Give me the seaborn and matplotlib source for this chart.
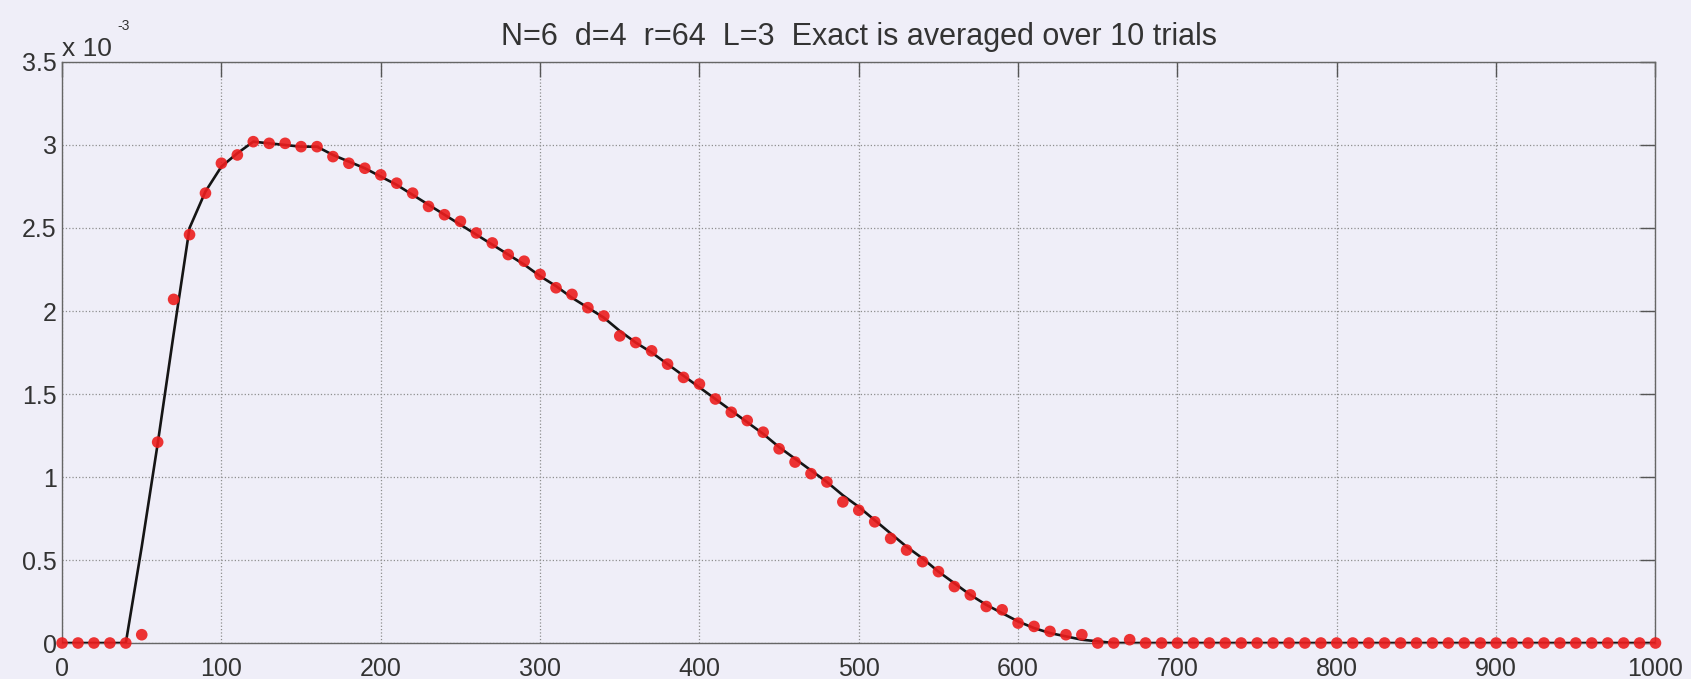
"""Exact vs sampled curve, MATLAB-style figure."""

import matplotlib
matplotlib.use("Agg")
import matplotlib.pyplot as plt
import numpy as np
import pandas as pd
import seaborn as sns
from matplotlib.ticker import FuncFormatter, MultipleLocator

# sampled estimate (red dots), x = 0..1000 step 10, values in units of 1e-3
dot_x = list(range(0, 1001, 10))
dot_y = [
    0, 0, 0, 0, 0, 0.05, 1.21, 2.07, 2.46, 2.71,
    2.89, 2.94, 3.02, 3.01, 3.01, 2.99, 2.99, 2.93, 2.89, 2.86,
    2.82, 2.77, 2.71, 2.63, 2.58, 2.54, 2.47, 2.41, 2.34, 2.30,
    2.22, 2.14, 2.10, 2.02, 1.97, 1.85, 1.81, 1.76, 1.68, 1.60,
    1.56, 1.47, 1.39, 1.34, 1.27, 1.17, 1.09, 1.02, 0.97, 0.85,
    0.80, 0.73, 0.63, 0.56, 0.49, 0.43, 0.34, 0.29, 0.22, 0.20,
    0.12, 0.10, 0.07, 0.05, 0.05, 0, 0, 0.02, 0, 0,
    0, 0, 0, 0, 0, 0, 0, 0, 0, 0,
    0, 0, 0, 0, 0, 0, 0, 0, 0, 0,
    0, 0, 0, 0, 0, 0, 0, 0, 0, 0,
    0,
]

# exact curve (black line), units of 1e-3
exact_x = list(range(0, 671, 10)) + [700, 1000]
exact_y = [
    0, 0, 0, 0, 0, 0.58, 1.20, 1.86, 2.50, 2.72,
    2.87, 2.95, 3.02, 3.01, 3.00, 2.99, 2.99, 2.94, 2.90, 2.86,
    2.81, 2.76, 2.70, 2.64, 2.58, 2.52, 2.46, 2.40, 2.34, 2.28,
    2.21, 2.15, 2.08, 2.02, 1.96, 1.88, 1.81, 1.75, 1.68, 1.61,
    1.54, 1.47, 1.40, 1.33, 1.26, 1.18, 1.11, 1.04, 0.97, 0.89,
    0.82, 0.74, 0.66, 0.58, 0.51, 0.43, 0.36, 0.29, 0.23, 0.18,
    0.13, 0.09, 0.06, 0.04, 0.02, 0.01, 0, 0,
    0, 0,
]

title = "N=6  d=4  r=64  L=3  Exact is averaged over 10 trials"

bg = "#efeef8"
sns.set_style("white")
plt.rcParams["font.family"] = ["Liberation Sans", "DejaVu Sans"]

exact = pd.DataFrame({"x": exact_x, "y": np.array(exact_y) * 1e-3})
dots = pd.DataFrame({"x": dot_x, "y": np.array(dot_y) * 1e-3})

fig = plt.figure(figsize=(16.91, 6.79), dpi=100, facecolor=bg)
ax = fig.add_axes([0.0367, 0.053, 0.9423, 0.8557])
ax.set_facecolor(bg)

sns.lineplot(data=exact, x="x", y="y", ax=ax, color="#151515", linewidth=1.9, zorder=3)
sns.scatterplot(data=dots, x="x", y="y", ax=ax, color="#ec1d1d", s=70,
                edgecolor="none", alpha=0.9, zorder=4, clip_on=False)

ax.set_xlim(0, 1000)
ax.set_ylim(0, 3.5e-3)
ax.xaxis.set_major_locator(MultipleLocator(100))
ax.yaxis.set_major_locator(MultipleLocator(0.5e-3))
ax.yaxis.set_major_formatter(FuncFormatter(lambda v, _: f"{v * 1e3:g}"))
ax.set_xlabel("")
ax.set_ylabel("")

ax.grid(True, linestyle=":", color="#8f8f8f", linewidth=0.9)
ax.tick_params(direction="in", length=11, width=1, color="#555555",
               top=True, right=True, labelsize=18, labelcolor="#333333")
ax.tick_params(axis="x", pad=10)
ax.tick_params(axis="y", pad=4)
for spine in ax.spines.values():
    spine.set_color("#666666")
    spine.set_linewidth(1)
    spine.set_visible(True)

ax.set_title(title, fontsize=22, color="#333333", pad=12)
ax.text(0.0, 1.002, "x 10", transform=ax.transAxes, ha="left",
        va="bottom", fontsize=19, color="#333333")
ax.text(0.035, 1.05, "-3", transform=ax.transAxes, ha="left",
        va="bottom", fontsize=10, color="#333333")

fig.savefig("out.png", dpi=100, facecolor=bg)
plt.close(fig)
